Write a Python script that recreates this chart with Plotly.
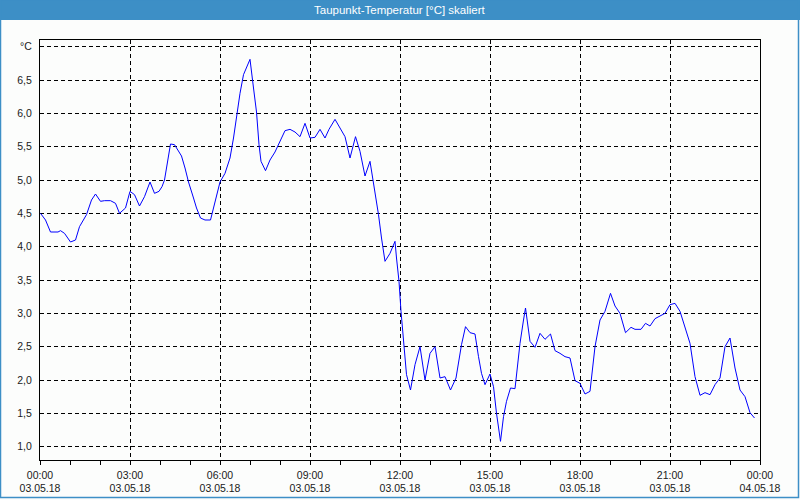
import plotly.graph_objects as go

# time in minutes after 03.05.18 00:00
minutes = [1, 11, 21, 36, 41, 49, 61, 71, 79, 93, 103, 111, 121, 129, 141, 151, 159, 171, 180, 189,
           199, 209, 220, 229, 238, 244, 249, 261, 269, 276, 283, 290, 297, 307, 313, 321, 330, 341,
           350, 360, 370, 380, 387, 393, 400, 407, 413, 420, 427, 433, 438, 442, 451, 460, 470, 480,
           490, 500, 510, 520, 530, 540, 550, 560, 570, 578, 590, 600, 610, 620, 631, 640, 650, 660,
           670, 677, 683, 690, 700, 710, 713, 718, 722, 727, 733, 741, 750, 760, 770, 780, 790, 800,
           810, 821, 832, 843, 851, 860, 870, 877, 883, 890, 900, 907, 913, 921, 927, 933, 941, 950,
           960, 967, 971, 980, 990, 1000, 1010, 1021, 1030, 1040, 1050, 1060, 1070, 1080, 1090, 1100,
           1110, 1120, 1130, 1141, 1150, 1160, 1171, 1182, 1190, 1202, 1211, 1220, 1230, 1240, 1250,
           1260, 1270, 1280, 1290, 1300, 1310, 1320, 1330, 1340, 1350, 1360, 1370, 1380, 1390, 1400,
           1410, 1420, 1429]
values = [4.50, 4.40, 4.22, 4.22, 4.24, 4.20, 4.07, 4.10, 4.30, 4.48, 4.70, 4.79, 4.68, 4.69, 4.69,
          4.65, 4.50, 4.58, 4.83, 4.78, 4.61, 4.75, 4.97, 4.80, 4.83, 4.90, 5.00, 5.54, 5.53, 5.45,
          5.36, 5.18, 4.97, 4.73, 4.58, 4.43, 4.40, 4.40, 4.68, 4.97, 5.10, 5.33, 5.63, 5.98, 6.30,
          6.58, 6.70, 6.81, 6.38, 6.02, 5.53, 5.28, 5.14, 5.30, 5.42, 5.58, 5.74, 5.76, 5.72, 5.65,
          5.85, 5.63, 5.64, 5.76, 5.63, 5.76, 5.91, 5.78, 5.65, 5.33, 5.65, 5.43, 5.06, 5.28, 4.83,
          4.48, 4.13, 3.78, 3.90, 4.08, 3.83, 3.48, 3.03, 2.58, 2.08, 1.85, 2.23, 2.50, 2.00, 2.40,
          2.50, 2.03, 2.05, 1.85, 2.03, 2.53, 2.80, 2.71, 2.69, 2.35, 2.10, 1.93, 2.09, 1.90, 1.50,
          1.08, 1.45, 1.68, 1.88, 1.87, 2.55, 2.90, 3.08, 2.58, 2.49, 2.70, 2.61, 2.69, 2.44, 2.40,
          2.35, 2.33, 1.99, 1.95, 1.79, 1.83, 2.50, 2.90, 3.03, 3.30, 3.11, 3.00, 2.71, 2.79, 2.76,
          2.76, 2.85, 2.81, 2.92, 2.96, 3.00, 3.13, 3.15, 3.03, 2.80, 2.55, 2.05, 1.77, 1.81, 1.78,
          1.93, 2.03, 2.50, 2.63, 2.18, 1.85, 1.75, 1.51, 1.43]

x_tickvals = ["2018-05-03 00:00", "2018-05-03 03:00", "2018-05-03 06:00", "2018-05-03 09:00",
              "2018-05-03 12:00", "2018-05-03 15:00", "2018-05-03 18:00", "2018-05-03 21:00",
              "2018-05-04 00:00"]
x_ticktext = ["00:00<br>03.05.18", "03:00<br>03.05.18", "06:00<br>03.05.18", "09:00<br>03.05.18",
              "12:00<br>03.05.18", "15:00<br>03.05.18", "18:00<br>03.05.18", "21:00<br>03.05.18",
              "00:00<br>04.05.18"]
y_tickvals = [1.0, 1.5, 2.0, 2.5, 3.0, 3.5, 4.0, 4.5, 5.0, 5.5, 6.0, 6.5, 7.0]
y_ticktext = ["1,0", "1,5", "2,0", "2,5", "3,0", "3,5", "4,0", "4,5", "5,0", "5,5", "6,0", "6,5", "°C"]
title = "Taupunkt-Temperatur [°C] skaliert"

times = [f"2018-05-03 {m // 60:02d}:{m % 60:02d}" for m in minutes]

W, H = 800, 500
L, R, T, B = 40, 40, 40, 40
pw, ph = W - L - R, H - T - B


def px_x(p):
    return (p - L) / pw


def px_y(p):
    return 1 - (p - T) / ph


fig = go.Figure()
fig.add_trace(go.Scatter(x=times, y=values, mode="lines",
                         line=dict(color="#0000ff", width=1), hoverinfo="skip"))

font = dict(family="Liberation Sans, Arial, sans-serif", size=10.5, color="#1a1a1a")

fig.update_layout(
    width=W, height=H,
    margin=dict(l=L, r=R, t=T, b=B, autoexpand=False),
    paper_bgcolor="#fcfdfc", plot_bgcolor="#fcfdfc",
    showlegend=False,
    font=font,
    xaxis=dict(
        type="date", automargin=False,
        range=["2018-05-03 00:00", "2018-05-04 00:00"],
        tickvals=x_tickvals, ticktext=x_ticktext,
        ticks="outside", ticklen=4, tickcolor="black", tickwidth=1,
        ticklabelstandoff=1,
        showgrid=True, gridcolor="black", gridwidth=1, griddash="4px,3px",
        showline=True, linecolor="black", linewidth=1, mirror=True,
        zeroline=False, tickfont=font,
        minor=dict(dtick=3600000, ticks="outside", ticklen=4, tickcolor="black", showgrid=False),
    ),
    yaxis=dict(
        range=[0.8, 7.1], automargin=False,
        tickvals=y_tickvals, ticktext=y_ticktext,
        ticks="", ticklabelstandoff=5,
        showgrid=True, gridcolor="black", gridwidth=1, griddash="4px,3px",
        showline=True, linecolor="black", linewidth=1, mirror=True,
        zeroline=False, tickfont=font,
    ),
    shapes=[
        dict(type="rect", xref="paper", yref="paper",
             x0=px_x(0), x1=px_x(W), y0=px_y(20), y1=px_y(0),
             fillcolor="#3d8fc6", line=dict(width=0), layer="above"),
        dict(type="rect", xref="paper", yref="paper",
             x0=px_x(0.5), x1=px_x(798.5), y0=px_y(497.5), y1=px_y(0),
             fillcolor="rgba(0,0,0,0)", line=dict(color="#3d8fc6", width=1.5), layer="above"),
    ],
    annotations=[
        dict(text=title, xref="paper", yref="paper", x=0.5, y=px_y(10),
             xanchor="center", yanchor="middle", showarrow=False,
             font=dict(family="Liberation Sans, Arial, sans-serif", size=11.5, color="white")),
    ],
)

fig.write_html("out.html", config={"displayModeBar": False, "staticPlot": True},
               post_script="document.body.style.margin='0';document.body.style.padding='0';")
